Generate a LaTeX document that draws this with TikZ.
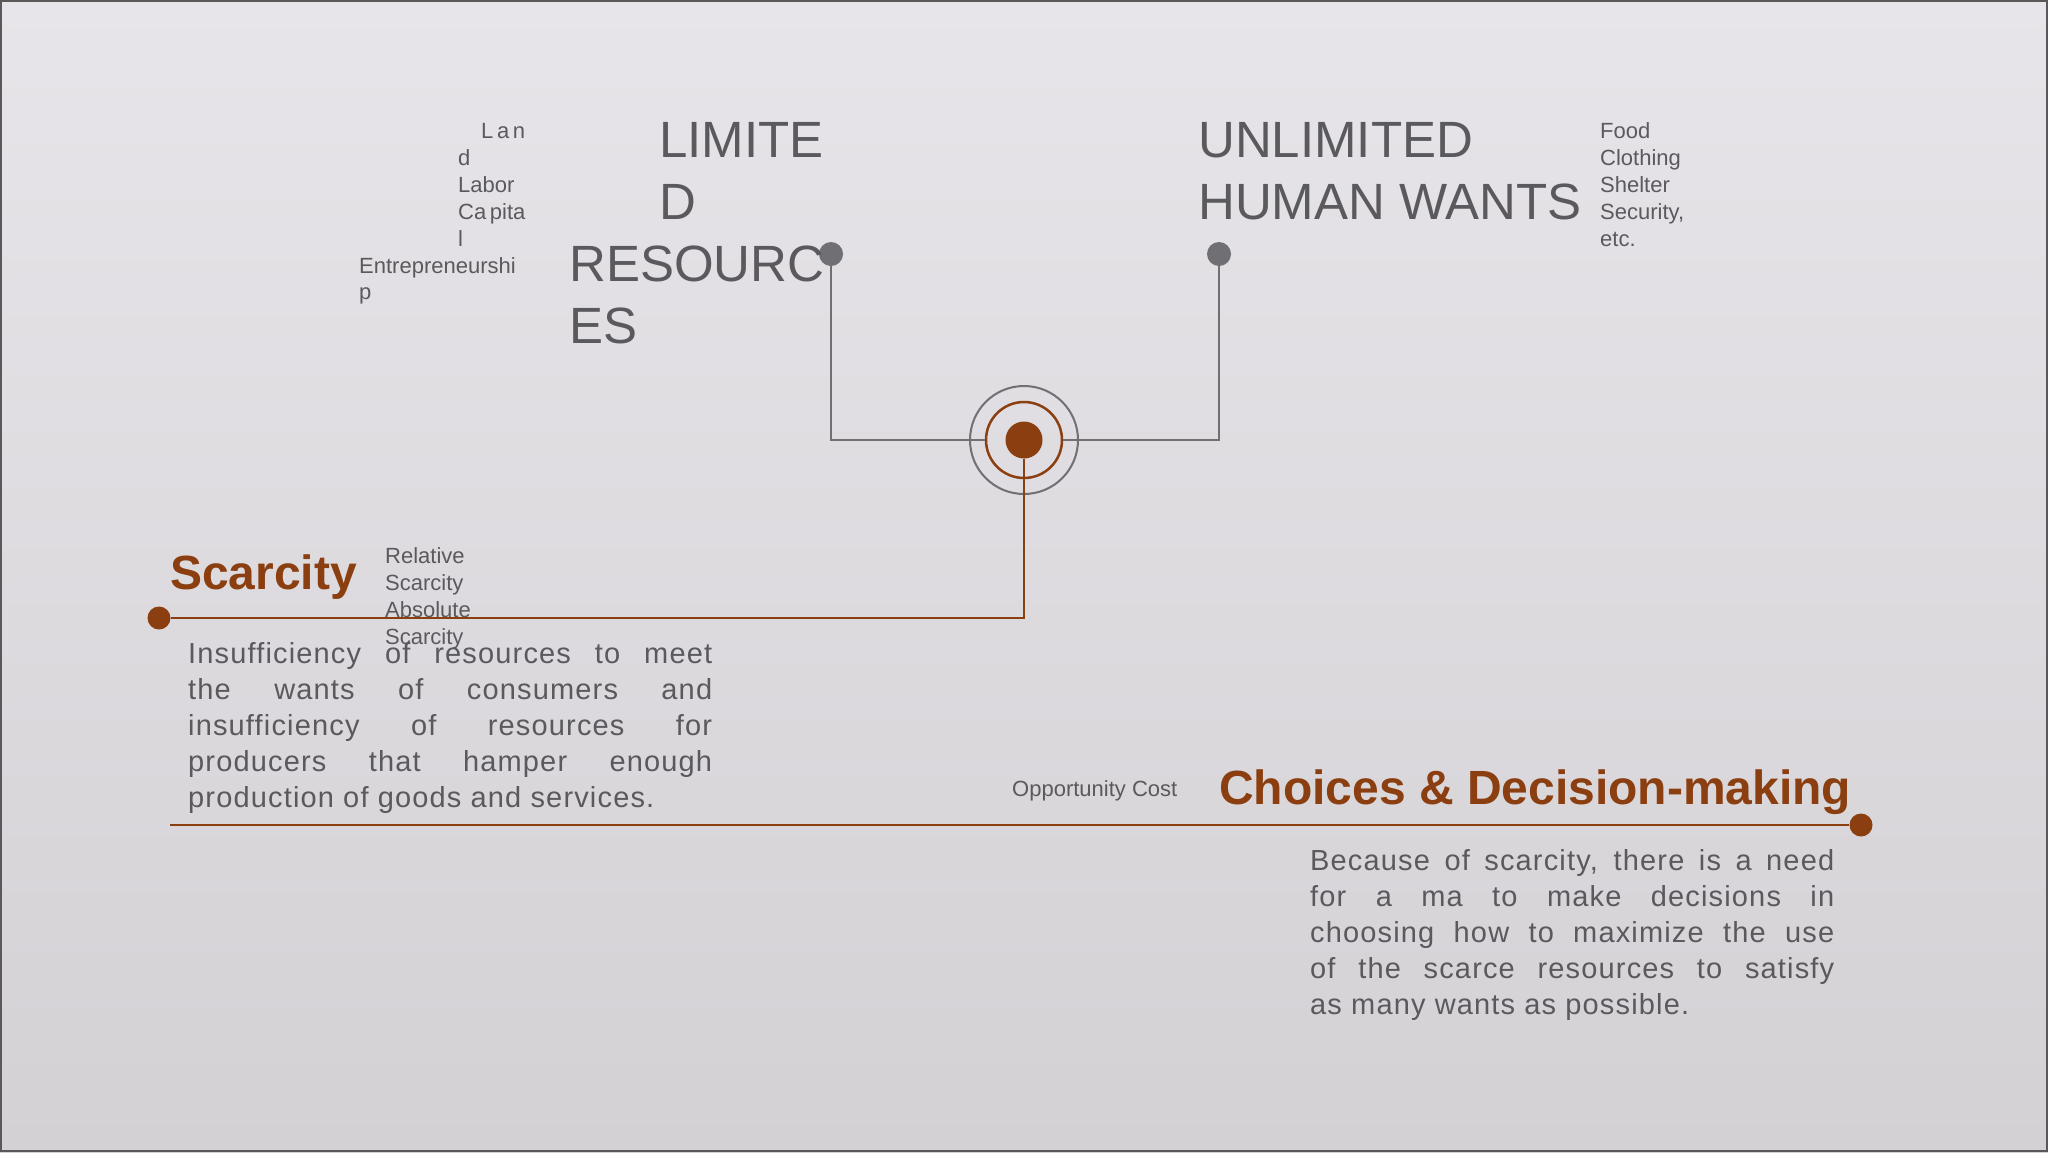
\documentclass[tikz,border=0pt]{standalone}
\usepackage{fontspec}
\setmainfont{Liberation Sans}
\newfontfamily\bodyfont[LetterSpace=4]{Liberation Sans}

\definecolor{rust}{RGB}{139,62,16}
\definecolor{inkgray}{RGB}{90,89,94}
\definecolor{wiregray}{RGB}{112,111,116}
\definecolor{bgtop}{RGB}{231,229,233}
\definecolor{bgmid}{RGB}{226,220,224}
\definecolor{bgbot}{RGB}{212,209,213}

\tikzset{
  bigword/.style={anchor=base west, inner sep=0, text=inkgray, font=\fontsize{51}{62}\selectfont},
  smallword/.style={anchor=base west, inner sep=0, text=inkgray, font=\fontsize{22}{27}\selectfont},
  heading/.style={anchor=base west, inner sep=0, text=rust, font=\fontsize{48}{58}\selectfont\bfseries},
  bodytext/.style={anchor=base west, inner sep=0, text=inkgray, text width=524pt, align=justify,
    font=\bodyfont\fontsize{29}{36}\selectfont},
  graydot/.style={circle, fill=wiregray, inner sep=0, minimum size=24pt},
  rustdot/.style={circle, fill=rust, inner sep=0, minimum size=23pt},
  grayline/.style={draw=wiregray, line width=2pt},
  rustline/.style={draw=rust, line width=2pt}
}

\begin{document}
\begin{tikzpicture}[x=1pt, y=-1pt]
  \useasboundingbox (0,0) rectangle (2048,1152);
  % slide background
  \shade[top color=bgtop, middle color=bgmid, bottom color=bgbot] (0,0) rectangle (2048,1152);
  \draw[line width=2pt, black!65] (1,1) rectangle (2047,1151);

  % hub
  \node[circle, draw=wiregray, line width=2pt, inner sep=0, minimum size=108pt] (hubouter) at (1024,440) {};
  \node[circle, draw=rust, line width=2.5pt, inner sep=0, minimum size=76pt] (hubring) at (1024,440) {};
  \node[circle, fill=rust, inner sep=0, minimum size=37pt] (hubcore) at (1024,440) {};

  % end dots
  \node[graydot] (resdot) at (831,254) {};
  \node[graydot] (wantdot) at (1219,254) {};
  \node[rustdot] (scardot) at (159,618) {};
  \node[rustdot] (choicedot) at (1861,825) {};
  \coordinate (baseL) at (170,825);

  % connectors
  \draw[grayline] (resdot) |- (hubring.west);
  \draw[grayline] (wantdot) |- (hubring.east);
  \draw[rustline] (hubcore) |- (scardot);
  \draw[rustline] (baseL) -- (choicedot);

  % limited resources
  \node[bigword] (lim1) at (659,157) {LIMITE};
  \node[bigword] (lim2) at (659,219) {D};
  \node[bigword] (lim3) at (569,281) {RESOURC};
  \node[bigword] (lim4) at (569,343) {ES};

  \node[smallword] (res1) at (481,138) {L\,a\,n};
  \node[smallword] (res2) at (458,165) {d};
  \node[smallword] (res3) at (458,192) {Labor};
  \node[smallword] (res4) at (458,219) {Ca\,pita};
  \node[smallword] (res5) at (458,246) {l};
  \node[smallword] (res6) at (359,273) {Entrepreneurshi};
  \node[smallword] (res7) at (359,299) {p};

  % unlimited wants
  \node[bigword] (want1) at (1198,157) {UNLIMITED};
  \node[bigword] (want2) at (1198,219) {HUMAN WANTS};

  \node[smallword, align=left] (wantlist) at (1600,246)
    {Food\\Clothing\\Shelter\\Security,\\etc.};

  % scarcity
  \node[heading] (scarcity) at (170,589) {Scarcity};
  \node[smallword, align=left] (scarlist) at (385,644)
    {Relative\\Scarcity\\Absolute\\Scarcity};
  \node[bodytext] (scarbody) at (188,663)
    {Insufficiency of resources to meet\linebreak
     the wants of consumers and\linebreak
     insufficiency of resources for\linebreak
     producers that hamper enough\linebreak
     production of goods and services.};

  % choices
  \node[smallword] (oppcost) at (1012,796) {Opportunity Cost};
  \node[heading] (choices) at (1219,804) {Choices \& Decision-making};
  \node[bodytext] (choicebody) at (1310,870)
    {Because of scarcity, there is a need\linebreak
     for a ma to make decisions in\linebreak
     choosing how to maximize the use\linebreak
     of the scarce resources to satisfy\linebreak
     as many wants as possible.};
\end{tikzpicture}
\end{document}
